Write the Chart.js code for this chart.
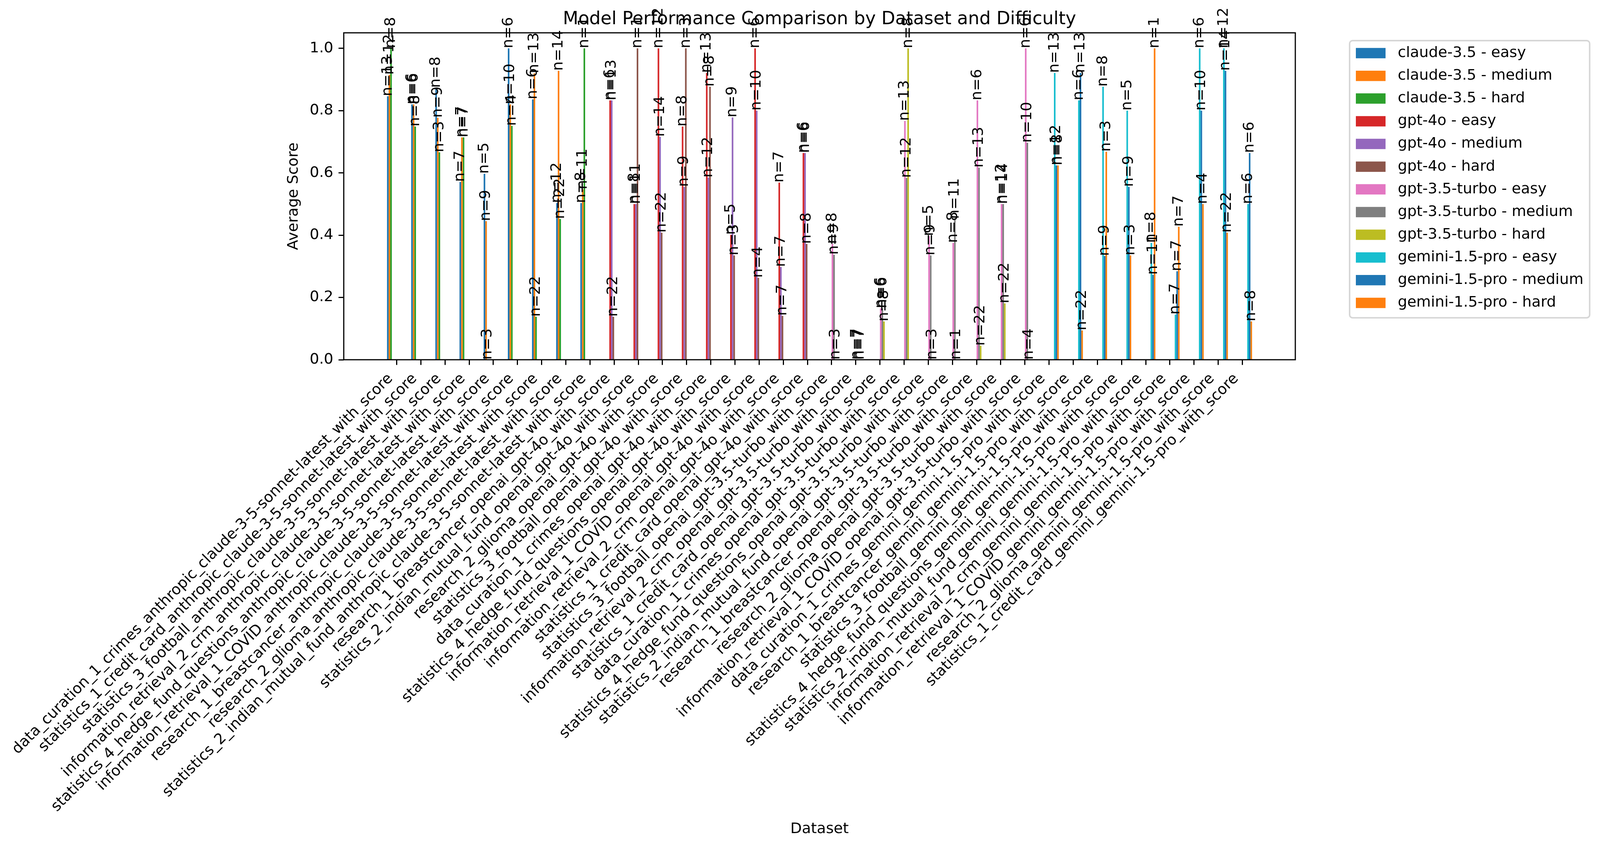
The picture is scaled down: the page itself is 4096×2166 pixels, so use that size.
<!DOCTYPE html>
<html lang="en">
<head>
<meta charset="UTF-8">
<title>Model Performance Comparison by Dataset and Difficulty</title>
<script src="https://cdn.jsdelivr.net/npm/chart.js@4.4.1/dist/chart.umd.min.js"></script>
<style>
  html, body { margin: 0; padding: 0; background: #fff; }
  canvas { display: block; }
</style>
</head>
<body>
<canvas id="chart" width="4096" height="2166"></canvas>
<script>
const categories = [
  'data_curation_1_crimes_anthropic_claude-3-5-sonnet-latest_with_score',
  'statistics_1_credit_card_anthropic_claude-3-5-sonnet-latest_with_score',
  'statistics_3_football_anthropic_claude-3-5-sonnet-latest_with_score',
  'information_retrieval_2_crm_anthropic_claude-3-5-sonnet-latest_with_score',
  'statistics_4_hedge_fund_questions_anthropic_claude-3-5-sonnet-latest_with_score',
  'information_retrieval_1_COVID_anthropic_claude-3-5-sonnet-latest_with_score',
  'research_1_breastcancer_anthropic_claude-3-5-sonnet-latest_with_score',
  'research_2_glioma_anthropic_claude-3-5-sonnet-latest_with_score',
  'statistics_2_indian_mutual_fund_anthropic_claude-3-5-sonnet-latest_with_score',
  'research_1_breastcancer_openai_gpt-4o_with_score',
  'statistics_2_indian_mutual_fund_openai_gpt-4o_with_score',
  'research_2_glioma_openai_gpt-4o_with_score',
  'statistics_3_football_openai_gpt-4o_with_score',
  'data_curation_1_crimes_openai_gpt-4o_with_score',
  'statistics_4_hedge_fund_questions_openai_gpt-4o_with_score',
  'information_retrieval_1_COVID_openai_gpt-4o_with_score',
  'information_retrieval_2_crm_openai_gpt-4o_with_score',
  'statistics_1_credit_card_openai_gpt-4o_with_score',
  'statistics_3_football_openai_gpt-3.5-turbo_with_score',
  'information_retrieval_2_crm_openai_gpt-3.5-turbo_with_score',
  'statistics_1_credit_card_openai_gpt-3.5-turbo_with_score',
  'data_curation_1_crimes_openai_gpt-3.5-turbo_with_score',
  'statistics_4_hedge_fund_questions_openai_gpt-3.5-turbo_with_score',
  'statistics_2_indian_mutual_fund_openai_gpt-3.5-turbo_with_score',
  'research_1_breastcancer_openai_gpt-3.5-turbo_with_score',
  'research_2_glioma_openai_gpt-3.5-turbo_with_score',
  'information_retrieval_1_COVID_openai_gpt-3.5-turbo_with_score',
  'data_curation_1_crimes_gemini_gemini-1.5-pro_with_score',
  'research_1_breastcancer_gemini_gemini-1.5-pro_with_score',
  'statistics_3_football_gemini_gemini-1.5-pro_with_score',
  'statistics_4_hedge_fund_questions_gemini_gemini-1.5-pro_with_score',
  'statistics_2_indian_mutual_fund_gemini_gemini-1.5-pro_with_score',
  'information_retrieval_2_crm_gemini_gemini-1.5-pro_with_score',
  'information_retrieval_1_COVID_gemini_gemini-1.5-pro_with_score',
  'research_2_glioma_gemini_gemini-1.5-pro_with_score',
  'statistics_1_credit_card_gemini_gemini-1.5-pro_with_score'
];
const models = ['claude-3.5', 'gpt-4o', 'gpt-3.5-turbo', 'gemini-1.5-pro'];
const modelKeys = ['_anthropic_', '_openai_gpt-4o_', '_openai_gpt-3.5-turbo_', '_gemini_gemini'];
const difficulties = ['easy', 'medium', 'hard'];
const yTicks = [0, 0.2, 0.4, 0.6, 0.8, 1.0];

// average score, one value per dataset of that model (in category order)
const claudeEasy   = [0.846, 0.820, 0.873, 0.571, 0.597, 1.000, 0.836, 0.503, 0.503];
const claudeMedium = [0.915, 0.820, 0.777, 0.714, 0.445, 0.820, 0.920, 0.928, 0.547];
const claudeHard   = [1.000, 0.749, 0.666, 0.714, 0.000, 0.751, 0.138, 0.452, 1.000];
const gpt4oEasy    = [0.833, 0.500, 1.000, 0.749, 0.921, 0.401, 1.000, 0.569, 0.664];
const gpt4oMedium  = [0.833, 0.500, 0.716, 0.555, 0.585, 0.778, 0.800, 0.298, 0.664];
const gpt4oHard    = [0.138, 1.000, 0.408, 1.000, 0.877, 0.335, 0.263, 0.141, 0.372];
const gpt35Easy    = [0.372, 0.000, 0.165, 0.767, 0.397, 0.375, 0.833, 0.500, 1.000];
const gpt35Medium  = [0.337, 0.000, 0.165, 0.584, 0.335, 0.452, 0.617, 0.500, 0.697];
const gpt35Hard    = [0.000, 0.000, 0.123, 1.000, 0.000, 0.000, 0.045, 0.181, 0.000];
const geminiEasy   = [0.921, 0.833, 0.877, 0.800, 0.375, 0.145, 1.000, 1.000, 0.500];
const geminiMedium = [0.624, 0.921, 0.333, 0.555, 0.273, 0.284, 0.800, 0.928, 0.664];
const geminiHard   = [0.624, 0.094, 0.668, 0.335, 1.000, 0.427, 0.500, 0.408, 0.123];

// number of questions behind each bar
const claudeEasyN   = [13, 6, 8, 7, 5, 6, 6, 12, 8];
const claudeMediumN = [12, 6, 9, 7, 9, 10, 13, 14, 11];
const claudeHardN   = [8, 8, 3, 7, 3, 4, 22, 22, 1];
const gpt4oEasyN    = [6, 8, 12, 8, 13, 5, 6, 7, 6];
const gpt4oMediumN  = [13, 11, 14, 9, 12, 9, 10, 7, 6];
const gpt4oHardN    = [22, 1, 22, 3, 8, 3, 4, 7, 8];
const gpt35EasyN    = [8, 7, 6, 13, 5, 8, 6, 12, 6];
const gpt35MediumN  = [9, 7, 6, 12, 9, 11, 13, 14, 10];
const gpt35HardN    = [3, 7, 8, 8, 3, 1, 22, 22, 4];
const geminiEasyN   = [13, 6, 8, 5, 8, 7, 6, 12, 6];
const geminiMediumN = [12, 13, 9, 9, 11, 7, 10, 14, 6];
const geminiHardN   = [8, 22, 3, 3, 1, 7, 4, 22, 8];

const colors = ['#1f77b4', '#ff7f0e', '#2ca02c', '#d62728', '#9467bd', '#8c564b',
                '#e377c2', '#7f7f7f', '#bcbd22', '#17becf', '#1f77b4', '#ff7f0e'];

const scores = [
  [claudeEasy, claudeMedium, claudeHard],
  [gpt4oEasy, gpt4oMedium, gpt4oHard],
  [gpt35Easy, gpt35Medium, gpt35Hard],
  [geminiEasy, geminiMedium, geminiHard]
];
const counts = [
  [claudeEasyN, claudeMediumN, claudeHardN],
  [gpt4oEasyN, gpt4oMediumN, gpt4oHardN],
  [gpt35EasyN, gpt35MediumN, gpt35HardN],
  [geminiEasyN, geminiMediumN, geminiHardN]
];

const FONT = 'DejaVu Sans';
const FS = 38.13;
Chart.defaults.font.family = FONT;
Chart.defaults.font.size = FS;
Chart.defaults.color = '#000';

const datasets = [];
models.forEach((m, mi) => {
  const cats = categories.map((c, i) => c.includes(modelKeys[mi]) ? i : -1).filter(i => i >= 0);
  difficulties.forEach((d, di) => {
    datasets.push({
      label: m + ' - ' + d,
      data: cats.map((ci, k) => ({ x: ci, y: scores[mi][di][k], n: counts[mi][di][k] })),
      backgroundColor: colors[datasets.length],
      borderWidth: 0,
      categoryPercentage: 0.8,
      barPercentage: 1.0
    });
  });
});

// legend sits to the right of the axes, like matplotlib's bbox_to_anchor
const legendPlace = {
  id: 'legendPlace',
  afterLayout(chart) {
    const lg = chart.legend, a = chart.chartArea;
    const w = lg.width, h = lg.height;
    lg.left = a.right + 135;
    lg.right = lg.left + w;
    lg.top = a.top + 13;
    lg.bottom = lg.top + h;
  },
  beforeDraw(chart) {
    const ctx = chart.ctx;
    ctx.save();
    ctx.fillStyle = '#fff';
    ctx.fillRect(0, 0, chart.width, chart.height);
    const boxes = chart.legend.legendHitBoxes;
    if (boxes && boxes.length) {
      const left = boxes[0].left - 16;
      const top = boxes[0].top - 13;
      const right = Math.max(...boxes.map(b => b.left + b.width)) + 16;
      const last = boxes[boxes.length - 1];
      const bottom = last.top + last.height + 19;
      ctx.beginPath();
      ctx.roundRect(left, top, right - left, bottom - top, 7.6);
      ctx.fillStyle = '#fff';
      ctx.fill();
      ctx.lineWidth = 3.8;
      ctx.strokeStyle = '#d6d6d6';
      ctx.stroke();
    }
    ctx.restore();
  }
};

// axes frame and the n= labels above each bar
const countLabels = {
  id: 'countLabels',
  afterDatasetsDraw(chart) {
    const ctx = chart.ctx, a = chart.chartArea;
    ctx.save();
    ctx.strokeStyle = '#000';
    ctx.lineWidth = 3;
    ctx.strokeRect(a.left, a.top, a.right - a.left, a.bottom - a.top);
    ctx.font = FS + 'px "' + FONT + '"';
    ctx.fillStyle = '#000';
    ctx.textAlign = 'left';
    ctx.textBaseline = 'middle';
    chart.data.datasets.forEach((ds, i) => {
      chart.getDatasetMeta(i).data.forEach((bar, k) => {
        ctx.save();
        ctx.translate(bar.x, bar.y);
        ctx.rotate(-Math.PI / 2);
        ctx.fillText('n=' + ds.data[k].n, 0, 0);
        ctx.restore();
      });
    });
    ctx.restore();
  }
};

new Chart('chart', {
  type: 'bar',
  data: { datasets: datasets },
  plugins: [legendPlace, countLabels],
  options: {
    responsive: false,
    animation: false,
    devicePixelRatio: 1,
    layout: { padding: { left: 0, right: 780, top: 0, bottom: 0 } },
    plugins: {
      tooltip: { enabled: false },
      title: {
        display: true,
        text: 'Model Performance Comparison by Dataset and Difficulty',
        fullSize: false,
        color: '#000',
        font: { family: FONT, size: 45.75, weight: 'normal', lineHeight: 1.2 },
        padding: { top: 22.6, bottom: 6.5 }
      },
      legend: {
        position: 'chartArea',
        align: 'start',
        labels: {
          boxWidth: 76,
          boxHeight: 26.5,
          padding: 20,
          color: '#000',
          font: { family: FONT, size: FS },
          generateLabels(chart) {
            return Chart.defaults.plugins.legend.labels.generateLabels(chart)
              .map(l => Object.assign(l, { text: ' ' + l.text, lineWidth: 0 }));
          }
        }
      }
    },
    scales: {
      x: {
        type: 'linear',
        min: -2.19,
        max: 37.19,
        offset: false,
        afterBuildTicks(ax) { ax.ticks = categories.map((c, i) => ({ value: i })); },
        afterFit(ax) { ax.height = 1245; ax.paddingLeft = 0; ax.paddingRight = 0; },
        ticks: {
          autoSkip: false,
          minRotation: 45,
          maxRotation: 45,
          labelOffset: -15.7,
          padding: 13.05,
          color: '#000',
          font: { size: FS },
          callback: v => categories[v]
        },
        grid: { display: true, drawOnChartArea: false, offset: false, tickLength: 13.35, tickWidth: 3, tickColor: '#000' },
        border: { display: false },
        title: { display: true, text: 'Dataset', color: '#000', font: { size: FS }, padding: { top: 0, bottom: 20 } }
      },
      y: {
        min: 0,
        max: 1.05,
        afterBuildTicks(ax) { ax.ticks = yTicks.map(v => ({ value: v })); },
        afterFit(ax) { ax.width = 880; },
        ticks: { padding: 13.35, color: '#000', font: { size: FS }, callback: v => v.toFixed(1) },
        grid: { display: true, drawOnChartArea: false, tickLength: 13.35, tickWidth: 3, tickColor: '#000' },
        border: { display: false },
        title: { display: true, text: 'Average Score', color: '#000', font: { size: FS }, padding: { top: 729, bottom: 0 } }
      }
    }
  }
});
</script>
</body>
</html>
